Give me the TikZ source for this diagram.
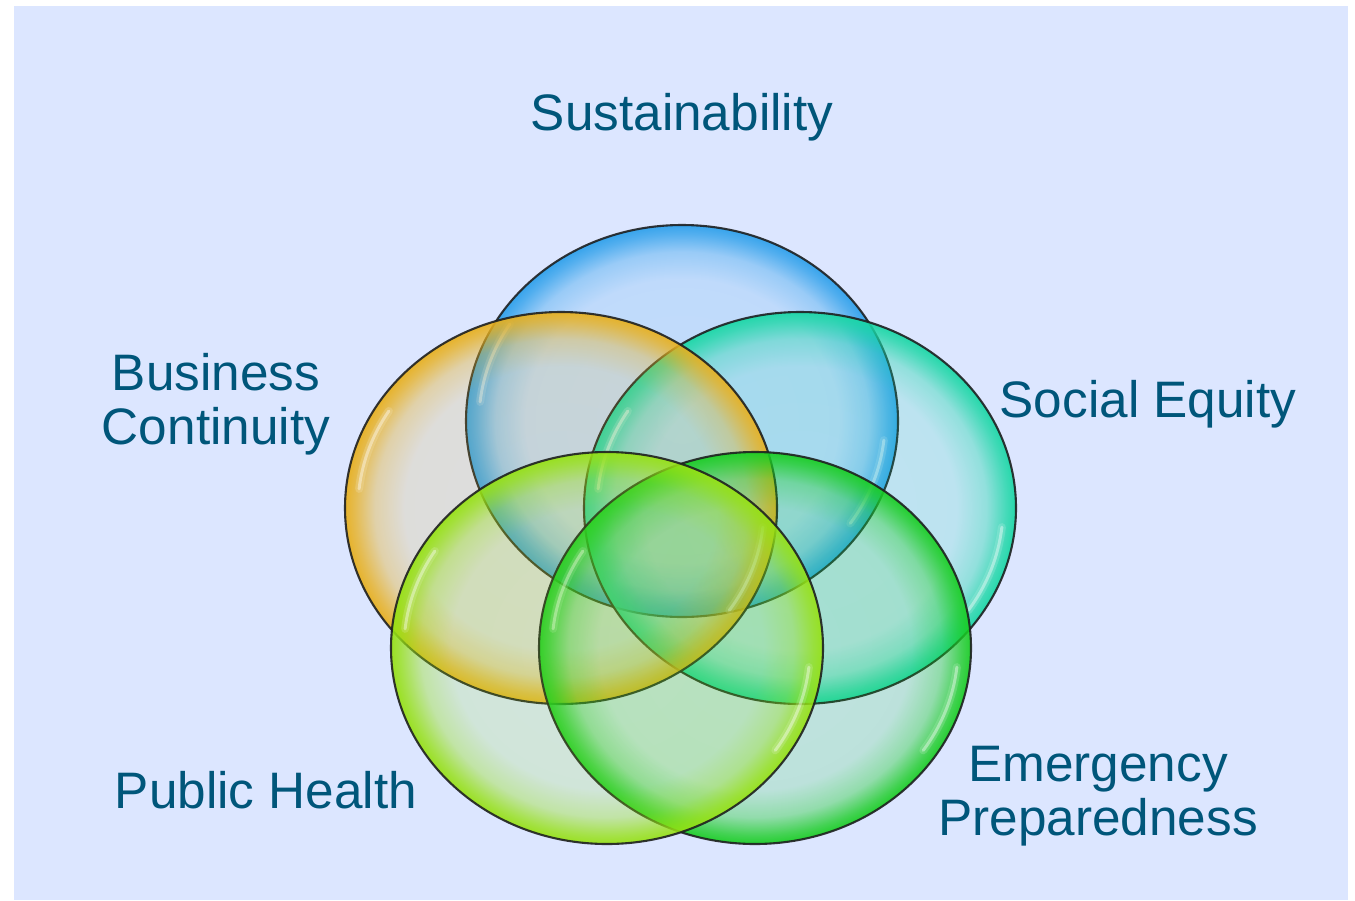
\documentclass[tikz,border=0pt]{standalone}
\usepackage{fontspec}
\setmainfont{Liberation Sans}
\usetikzlibrary{fadings}
\definecolor{bgc}{RGB}{220,230,255}
\definecolor{lblc}{RGB}{0,86,122}
\definecolor{cblue}{RGB}{45,160,235}
\definecolor{corange}{RGB}{232,176,30}
\definecolor{cteal}{RGB}{25,215,165}
\definecolor{clime}{RGB}{150,225,20}
\definecolor{cgreen}{RGB}{25,205,35}
\definecolor{rimline}{RGB}{30,32,32}
\pgfdeclareradialshading{rimmask}{\pgfpoint{0bp}{0bp}}{color(0bp)=(black!86); color(18bp)=(black!84); color(21.5bp)=(black!62); color(23.8bp)=(black!22); color(25bp)=(black!5); color(50bp)=(black!5)}
\pgfdeclarefading{rimfade}{\pgfuseshading{rimmask}}
\newcommand\mybubble[3]{%
  \fill[bub=#3] (#1,#2) ellipse [x radius=216, y radius=196];
  \draw[glosswide] (#1,#2) ++(186:203 and 183) arc [start angle=186, end angle=212, x radius=203, y radius=183];
  \draw[gloss] (#1,#2) ++(186:203 and 183) arc [start angle=186, end angle=212, x radius=203, y radius=183];
  \draw[glosswide] (#1,#2) ++(6:203 and 183) arc [start angle=6, end angle=34, x radius=203, y radius=183];
  \draw[gloss] (#1,#2) ++(6:203 and 183) arc [start angle=6, end angle=34, x radius=203, y radius=183];
  \draw[rim] (#1,#2) ellipse [x radius=216, y radius=196];
}
\begin{document}
\begin{tikzpicture}[x=1pt,y=-1pt,
  lbl/.style={text=lblc, font=\fontsize{51.3}{53.5}\selectfont, align=center, inner sep=0pt},
  bub/.style={fill=#1, path fading=rimfade, fit fading=true},
  rim/.style={draw=rimline, line width=2.1pt, draw opacity=0.9},
  gloss/.style={draw=white, line width=3pt, line cap=round, draw opacity=0.4},
  glosswide/.style={draw=white, line width=8pt, line cap=round, draw opacity=0.15}]
\useasboundingbox (0,0) rectangle (1355,900);
\fill[bgc] (14,6) rectangle (1348,900);
\mybubble{682}{421}{cblue}
\mybubble{800}{508}{cteal}
\mybubble{561}{508}{corange}
\mybubble{755}{648}{cgreen}
\mybubble{607}{648}{clime}
\node[lbl, anchor=base] (sus) at (682,130) {Sustainability};
\node[lbl, anchor=base] (bus) at (216,444) {Business\\Continuity};
\node[lbl, anchor=base] (soc) at (1148,417) {Social Equity};
\node[lbl, anchor=base] (pub) at (266,808) {Public Health};
\node[lbl, anchor=base] (eme) at (1098,835) {Emergency\\Preparedness};
\end{tikzpicture}
\end{document}
